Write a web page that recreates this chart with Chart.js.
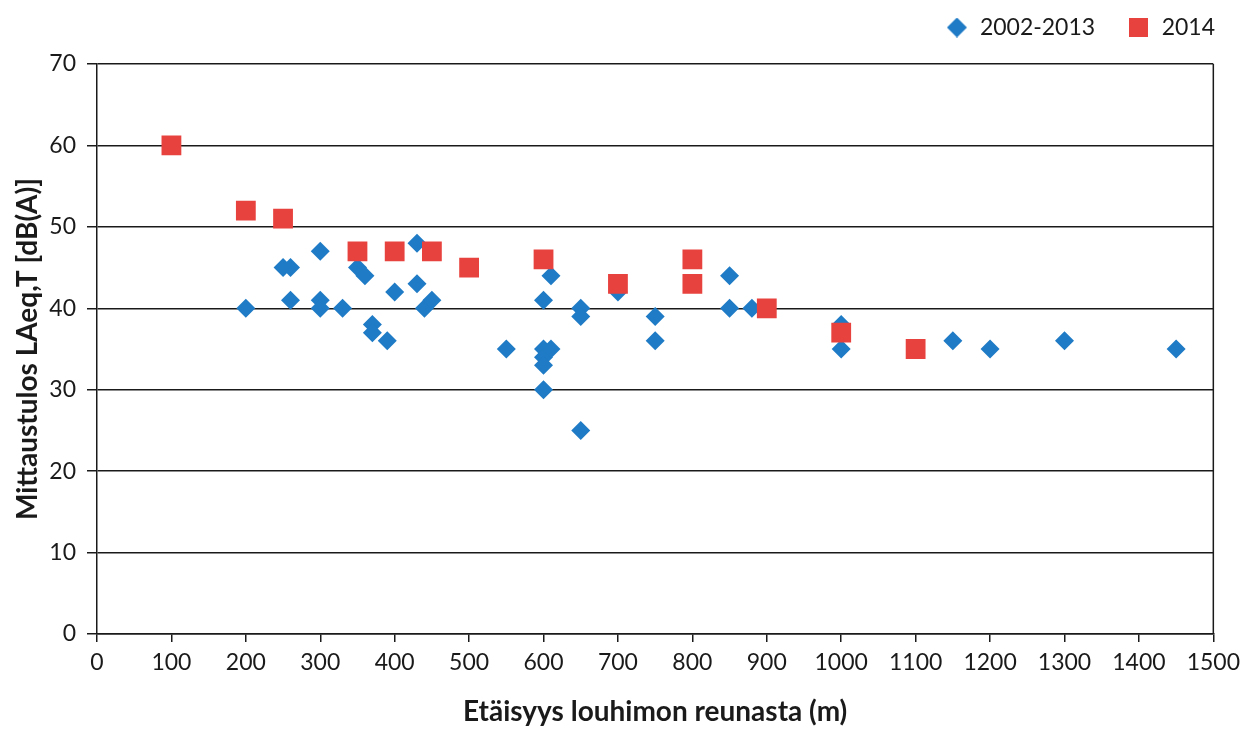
<!DOCTYPE html>
<html>
<head>
<meta charset="utf-8">
<script src="https://cdn.jsdelivr.net/npm/chart.js@4.4.1/dist/chart.umd.min.js"></script>
<style>
  html, body { margin: 0; padding: 0; background: #fff; }
  #wrap { width: 1247px; height: 729px; }
</style>
</head>
<body>
<div id="wrap"><canvas id="chart"></canvas></div>
<script>
(function () {
    "use strict";

    // Data
    const seriesNames = ["2002-2013", "2014"];

    const distOld = [200, 250, 260, 260, 300, 300, 300, 330, 350, 360, 370, 370, 390, 400,
        430, 430, 440, 450, 550, 600, 600, 600, 600, 600, 610, 610, 650, 650, 650, 700,
        750, 750, 850, 850, 880, 1000, 1000, 1150, 1200, 1300, 1450];
    const levelOld = [40, 45, 45, 41, 47, 41, 40, 40, 45, 44, 38, 37, 36, 42,
        48, 43, 40, 41, 35, 41, 35, 34, 33, 30, 44, 35, 40, 39, 25, 42,
        39, 36, 44, 40, 40, 38, 35, 36, 35, 36, 35];

    const dist2014 = [100, 200, 250, 350, 400, 450, 500, 600, 700, 800, 800, 900, 1000, 1100];
    const level2014 = [60, 52, 51, 47, 47, 47, 45, 46, 43, 46, 43, 40, 37, 35];

    const xTicks = [0, 1500, 100];   // min, max, step
    const yTicks = [0, 70, 10];

    const blue = "#1f7bc5";
    const red = "#e8423e";
    const ink = "#1a1a1a";
    const fontFamily = "Lato, 'Open Sans', sans-serif";

    const toPoints = (xs, ys) => xs.map((x, i) => ({ x: x, y: ys[i] }));

    // legend icons
    const makeIcon = (kind, color) => {
        const c = document.createElement("canvas");
        const s = kind === "diamond" ? 20 : 19;
        c.width = s;
        c.height = s;
        const g = c.getContext("2d");
        g.fillStyle = color;
        if (kind === "diamond") {
            g.beginPath();
            g.moveTo(s / 2, 0);
            g.lineTo(s, s / 2);
            g.lineTo(s / 2, s);
            g.lineTo(0, s / 2);
            g.closePath();
            g.fill();
        } else {
            g.fillRect(0, 0, s, s);
        }
        return c;
    };
    const legendIcons = [makeIcon("diamond", blue), makeIcon("square", red)];

    // empty axes used only as spacers
    const spacer = (position, size) => ({
        type: "linear",
        position: position,
        display: true,
        afterFit: (scale) => {
            if (scale.isHorizontal()) scale.height = size;
            else scale.width = size;
        },
        ticks: { display: false },
        grid: { display: false, drawTicks: false },
        border: { display: false },
    });

    // right edge of the plot area
    const frame = {
        id: "frame",
        afterDatasetsDraw(chart) {
            const a = chart.chartArea;
            const ctx = chart.ctx;
            ctx.save();
            ctx.strokeStyle = ink;
            ctx.lineWidth = 1.5;
            ctx.beginPath();
            ctx.moveTo(a.right, a.top);
            ctx.lineTo(a.right, a.bottom);
            ctx.stroke();
            ctx.restore();
        },
    };

    const ctx = document.getElementById("chart").getContext("2d");
    new Chart(ctx, {
        type: "scatter",
        data: {
            datasets: [
                {
                    label: seriesNames[0],
                    data: toPoints(distOld, levelOld),
                    pointStyle: "rectRot",
                    pointRadius: 9.5,
                    pointHoverRadius: 9.5,
                    backgroundColor: blue,
                    borderColor: blue,
                    pointBorderWidth: 0,
                    order: 1,
                },
                {
                    label: seriesNames[1],
                    data: toPoints(dist2014, level2014),
                    pointStyle: "rect",
                    pointRadius: 14,
                    pointHoverRadius: 14,
                    backgroundColor: red,
                    borderColor: red,
                    pointBorderWidth: 0,
                    order: 0,
                },
            ],
        },
        options: {
            responsive: true,
            maintainAspectRatio: false,
            animation: false,
            layout: { padding: { left: 0, right: 0, top: -16, bottom: 0 } },
            plugins: {
                tooltip: { enabled: false },
                legend: {
                    position: "top",
                    align: "end",
                    labels: {
                        usePointStyle: true,
                        boxHeight: 20,
                        padding: 32,
                        color: ink,
                        font: { family: fontFamily, size: 23 },
                        sort: (a, b) => a.datasetIndex - b.datasetIndex,
                        generateLabels: (chart) =>
                            Chart.defaults.plugins.legend.labels
                                .generateLabels(chart)
                                .map((item) => Object.assign(item, { pointStyle: legendIcons[item.datasetIndex] })),
                    },
                },
            },
            scales: {
                x: {
                    type: "linear",
                    min: xTicks[0],
                    max: xTicks[1],
                    afterFit: (scale) => { scale.height = 95; },
                    ticks: {
                        stepSize: xTicks[2],
                        color: ink,
                        padding: 7,
                        maxRotation: 0,
                        callback: (v) => String(v),
                        font: { family: fontFamily, size: 23 },
                    },
                    grid: {
                        drawOnChartArea: false,
                        drawTicks: true,
                        tickLength: 8,
                        color: ink,
                        lineWidth: 1.5,
                    },
                    border: { color: ink, width: 1.5 },
                    title: {
                        display: true,
                        text: "Etäisyys louhimon reunasta (m)",
                        color: ink,
                        padding: { top: 0, bottom: 0 },
                        font: { family: fontFamily, size: 28, weight: "bold" },
                    },
                },
                y: {
                    type: "linear",
                    min: yTicks[0],
                    max: yTicks[1],
                    afterFit: (scale) => { scale.width = 97; },
                    ticks: {
                        stepSize: yTicks[2],
                        color: ink,
                        padding: 11,
                        font: { family: fontFamily, size: 23 },
                    },
                    grid: {
                        drawTicks: true,
                        tickLength: 10,
                        color: ink,
                        lineWidth: 1.5,
                    },
                    border: { color: ink, width: 1.5 },
                    title: {
                        display: true,
                        text: "Mittaustulos LAeq,T [dB(A)]",
                        color: ink,
                        padding: { top: 11, bottom: 0 },
                        font: { family: fontFamily, size: 28, weight: "bold" },
                    },
                },
                xTop: spacer("top", 15),
                yRight: spacer("right", 30),
            },
        },
        plugins: [frame],
    });
})();
</script>
</body>
</html>
